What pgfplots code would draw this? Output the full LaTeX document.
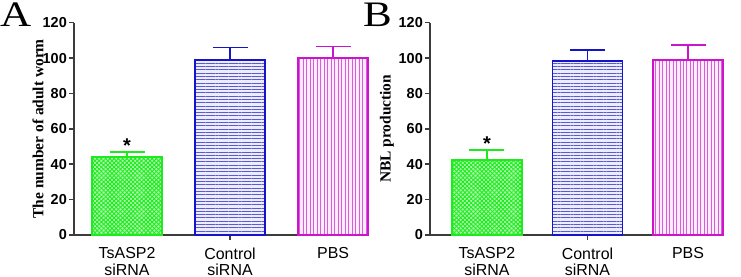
\documentclass[border=0pt]{standalone}
\usepackage{pgfplots}
\pgfplotsset{compat=1.18}
\usepackage{fontspec}
\setmainfont{Liberation Serif}
\setsansfont{Liberation Sans}
\usetikzlibrary{patterns,patterns.meta}
\definecolor{cgreen}{RGB}{30,235,30}
\definecolor{cblue}{RGB}{20,20,200}
\definecolor{cmag}{RGB}{205,20,205}
\definecolor{axgray}{RGB}{60,60,60}
\pgfplotsset{
  panel/.style={
    scale only axis, height=212.3bp,
    ymin=0, ymax=120, ytick={0,20,...,120},
    axis x line*=bottom, axis y line*=left,
    axis line style={draw=axgray, line width=1.6bp, -},
    tick align=outside, major tick length=5bp,
    ytick style={draw=axgray, line width=1.6bp},
    xtick={0,1,2}, xticklabels={{TsASP2\\siRNA},{Control\\siRNA},{PBS}},
    xtick style={draw=none},
    extra x ticks={1}, extra x tick labels={},
    extra x tick style={xtick style={draw=axgray, line width=1.2bp}},
    /pgf/number format/assume math mode=true,
    yticklabel style={font=\fontsize{14.5}{14.5}\selectfont\sffamily\bfseries, inner sep=2bp},
    xticklabel style={font=\fontsize{16}{16.5}\selectfont\sffamily, align=center, inner sep=0pt, yshift=-7.5bp},
    ylabel style={font=\fontsize{15.5}{16}\selectfont\rmfamily\bfseries, anchor=center},
    ybar, bar width=70bp, bar shift=0pt,
    clip=false,
    error bars/y dir=plus, error bars/y explicit,
  },
  gbar/.style={draw=cgreen, line width=1.8bp, fill=cgreen!35,
    postaction={pattern={Lines[angle=45,distance=3pt,line width=0.9pt]}, pattern color=cgreen},
    postaction={pattern={Lines[angle=-45,distance=3pt,line width=0.9pt]}, pattern color=cgreen},
    error bars/error bar style={draw=cgreen, line width=1.8bp},
    error bars/error mark options={draw=cgreen, line width=1.8bp, mark size=17.5bp, rotate=90}},
  bbar/.style={draw=cblue, line width=1.8bp, fill=cblue!8,
    postaction={pattern={Lines[angle=0,distance=3.3pt,line width=0.9pt]}, pattern color=cblue!70},
    error bars/error bar style={draw=cblue, line width=1.8bp},
    error bars/error mark options={draw=cblue, line width=1.8bp, mark size=17.5bp, rotate=90}},
  mbar/.style={draw=cmag, line width=1.8bp, fill=cmag!8,
    postaction={pattern={Lines[angle=90,distance=3.5pt,line width=0.9pt]}, pattern color=cmag!70},
    error bars/error bar style={draw=cmag, line width=1.8bp},
    error bars/error mark options={draw=cmag, line width=1.8bp, mark size=17.5bp, rotate=90}},
}
\begin{document}
\begin{tikzpicture}
\path[use as bounding box] (0,0) rectangle (741bp,277bp);
\node[anchor=base west, inner sep=0pt, xscale=1.2, font=\fontsize{36}{36}\selectfont\rmfamily] at (0bp,250bp) {A};
\node[anchor=base west, inner sep=0pt, xscale=1.2, font=\fontsize{36}{36}\selectfont\rmfamily] at (363bp,250bp) {B};
\begin{axis}[panel, at={(74bp,42bp)}, anchor=south west, width=294bp,
  xmin=-0.515, xmax=2.339,
  ylabel={The number of adult worm},
  ylabel style={at={(axis description cs:-0.122,0.5)}}]
\addplot[gbar] coordinates {(0,44) +- (0,3)};
\addplot[bbar] coordinates {(1,99) +- (0,7)};
\addplot[mbar] coordinates {(2,100) +- (0,6.5)};
\node[anchor=center, font=\fontsize{20}{20}\selectfont\sffamily\bfseries] at (axis cs:0,50.5) {*};
\end{axis}
\begin{axis}[panel, at={(430bp,42bp)}, anchor=south west, width=293bp,
  xmin=-0.567, xmax=2.348,
  ylabel={NBL production},
  ylabel style={at={(axis description cs:-0.147,0.5)}}]
\addplot[gbar] coordinates {(0,42.4) +- (0,5.6)};
\addplot[bbar] coordinates {(1,98.3) +- (0,6.2)};
\addplot[mbar] coordinates {(2,99) +- (0,8.5)};
\node[anchor=center, font=\fontsize{20}{20}\selectfont\sffamily\bfseries] at (axis cs:0,51.5) {*};
\end{axis}
\end{tikzpicture}
\end{document}
